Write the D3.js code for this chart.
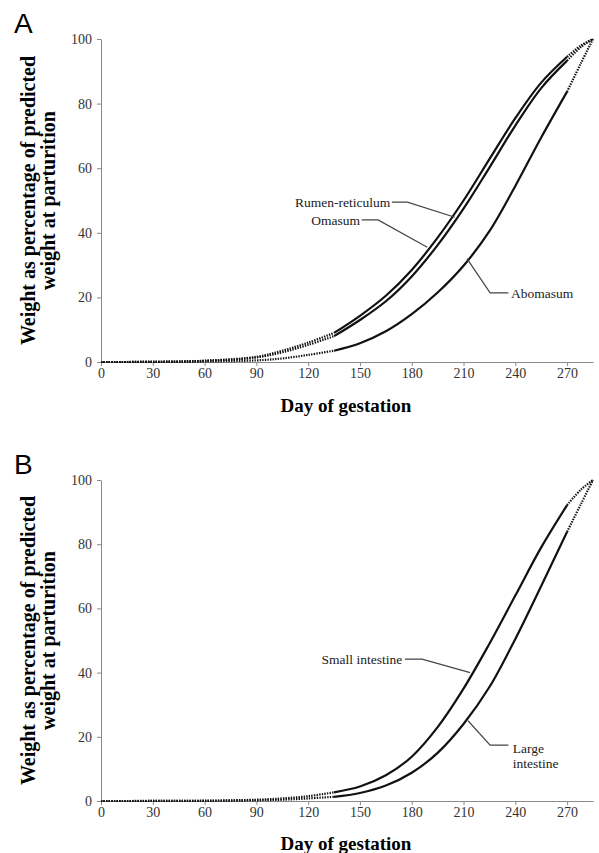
<!DOCTYPE html>
<html>
  <head>
    <meta charset="utf-8">
    <title>Gestation weight curves</title>
    <script src="https://d3js.org/d3.v7.min.js"></script>
    <style>
      body { margin: 0; background: #fff; }
      .axis path, .axis line { stroke: #8a8a8a; }
      .axis text { font-family: "Liberation Serif", "DejaVu Serif", serif; font-size: 14px; fill: #333; }
    </style>
  </head>
  <body>
  <script type="text/javascript">
    // day of gestation for every value below
    var days = [0, 30, 60, 90, 105, 120, 135, 150, 165, 180, 195, 210, 225, 240, 255, 270, 278, 285];
    // solid part of every curve runs from day 135 to 270, the rest is dotted
    var solidFrom = 135, solidTo = 270;

    var rumen    = [0, 0.05, 0.4, 1.6, 3.5, 6, 9, 14.3, 20.5, 28.5, 38.5, 50, 62.8, 75.5, 86.5, 94.5, 98, 100];
    var omasum   = [0, 0.05, 0.35, 1.4, 3, 5.3, 8, 13, 18.8, 26.5, 36.2, 47.5, 60.2, 73.2, 84.8, 93.3, 97.5, 100];
    var abomasum = [0, 0.02, 0.15, 0.5, 1.1, 2.2, 3.5, 5.8, 9.5, 14.8, 21.5, 29.8, 40.5, 54.5, 69.5, 83.7, 92.5, 100];
    var smallInt = [0, 0.02, 0.1, 0.4, 0.8, 1.5, 2.7, 4.5, 8, 13.8, 23, 35, 49, 64, 79, 92.2, 97, 100];
    var largeInt = [0, 0.01, 0.05, 0.2, 0.4, 0.8, 1.3, 2.5, 4.8, 8.8, 15, 24, 35.5, 50.5, 67, 83.9, 92.5, 100];

    var xTicks = [0, 30, 60, 90, 120, 150, 180, 210, 240, 270];
    var yTicks = [0, 20, 40, 60, 80, 100];

    // label: text lines, where the text sits (day,value), leader points (day,value)
    var labelsA = [
      {lines: ['Rumen-reticulum'], anchor: 'end', at: [167.5, 49.5], leader: [[168.5, 49.5], [177.5, 49.5], [205, 44.8]]},
      {lines: ['Omasum'], anchor: 'end', at: [150, 44], leader: [[151, 44], [160.5, 44], [189, 35.5]]},
      {lines: ['Abomasum'], anchor: 'start', at: [237.5, 21.4], leader: [[212, 32], [225.4, 21.4], [236, 21.4]]}
    ];
    var labelsB = [
      {lines: ['Small intestine'], anchor: 'end', at: [174.5, 44.2], leader: [[176, 44.2], [186, 44.2], [213.8, 40]]},
      {lines: ['Large', 'intestine'], anchor: 'start', at: [238.5, 16.5], leader: [[212.6, 25], [225.4, 17.4], [236, 17.4]]}
    ];

    var svg = d3.select('body')
                .append('svg')
                .attr('width', 599)
                .attr('height', 853);

    var serif = '"Liberation Serif", "DejaVu Serif", serif';

    function panel(letter, top, bottom, series, labels, titleY, letterY) {
      var x = d3.scaleLinear().domain([0, 285]).range([101, 593]);
      var y = d3.scaleLinear().domain([0, 100]).range([bottom, top]);
      var g = svg.append('g');

      g.append('g').attr('class', 'axis')
        .attr('transform', 'translate(0,' + bottom + ')')
        .call(d3.axisBottom(x).tickValues(xTicks).tickSize(4).tickSizeOuter(0).tickPadding(2));
      g.append('g').attr('class', 'axis')
        .attr('transform', 'translate(101,0)')
        .call(d3.axisLeft(y).tickValues(yTicks).tickSize(4).tickSizeOuter(0).tickPadding(5));

      var line = d3.line()
                   .x(function(d){ return x(d[0]); })
                   .y(function(d){ return y(d[1]); })
                   .curve(d3.curveCatmullRom.alpha(0.5));

      series.forEach(function(vals){
        var pts = days.map(function(d, i){ return [d, vals[i]]; });
        var early = pts.filter(function(p){ return p[0] <= solidFrom; });
        var mid   = pts.filter(function(p){ return p[0] >= solidFrom && p[0] <= solidTo; });
        var late  = pts.filter(function(p){ return p[0] >= solidTo; });
        [early, late].forEach(function(seg){
          g.append('path').attr('d', line(seg))
            .attr('fill', 'none').attr('stroke', '#111')
            .attr('stroke-width', 2.2).attr('stroke-dasharray', '1.4,1.2');
        });
        g.append('path').attr('d', line(mid))
          .attr('fill', 'none').attr('stroke', '#111').attr('stroke-width', 2.2);
      });

      labels.forEach(function(l){
        g.append('path')
          .attr('d', d3.line().x(function(d){ return x(d[0]); }).y(function(d){ return y(d[1]); })(l.leader))
          .attr('fill', 'none').attr('stroke', '#444').attr('stroke-width', 1.2);
        var t = g.append('text')
          .attr('x', x(l.at[0])).attr('y', y(l.at[1]))
          .attr('text-anchor', l.anchor)
          .style('font-family', serif)
          .style('font-size', '13.5px').attr('fill', '#222');
        l.lines.forEach(function(s, i){
          t.append('tspan').attr('x', x(l.at[0])).attr('dy', i === 0 ? '0.35em' : '1.1em').text(s);
        });
      });

      // axis titles
      g.append('text')
        .attr('x', 346).attr('y', titleY)
        .attr('text-anchor', 'middle')
        .style('font-family', serif)
        .style('font-size', '19px').style('font-weight', 'bold')
        .text('Day of gestation');
      var cy = (top + bottom) / 2;
      var yt = g.append('text')
        .attr('transform', 'translate(0,' + cy + ') rotate(-90)')
        .attr('text-anchor', 'middle')
        .style('font-family', serif)
        .style('font-size', '20px').style('font-weight', 'bold');
      yt.append('tspan').attr('x', 0).attr('y', 35).text('Weight as percentage of predicted');
      yt.append('tspan').attr('x', 0).attr('y', 55).text('weight at parturition');

      g.append('text')
        .attr('x', 14).attr('y', letterY)
        .style('font-family', '"Liberation Sans", Arial, sans-serif')
        .style('font-size', '28px')
        .text(letter);
    }

    panel('A', 39, 362, [rumen, omasum, abomasum], labelsA, 412, 33);
    panel('B', 480, 801, [smallInt, largeInt], labelsB, 850, 474);
  </script>
  </body>
</html>
